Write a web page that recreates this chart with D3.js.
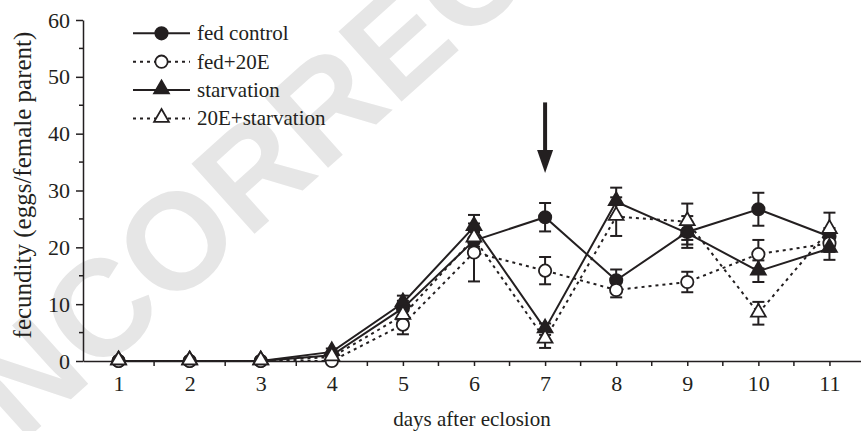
<meta charset="utf-8">
<style>
	body {
		margin: 0;
		background: #fff;
	}

	.axis path, .axis line {
		stroke: #231f20;
		stroke-width: 1.5;
	}
</style>

<body>
<script src="https://cdn.jsdelivr.net/npm/d3@7/dist/d3.min.js"></script>

<svg id="svg"></svg>

<script>

// DATA
var days = [ 1, 2, 3, 4, 5, 6, 7, 8, 9, 10, 11 ]

var fedControl       = [ 0, 0, 0, 1.0, 9.3, 21.2, 25.3, 14.2, 22.7, 26.7, 21.9 ]
var fedControlErr    = [ 0, 0, 0, 0.4, 1.3, 1.5, 2.5, 1.9, 2.8, 2.9, 1.5 ]
var fed20E           = [ 0, 0, 0, 0.0, 6.4, 19.1, 15.9, 12.5, 13.9, 18.8, 20.7 ]
var fed20EErr        = [ 0, 0, 0, 0.2, 1.7, 5.1, 2.4, 1.3, 1.8, 2.5, 1.5 ]
var starvation       = [ 0, 0, 0, 1.6, 10.2, 23.6, 5.6, 28.0, 22.5, 15.8, 19.8 ]
var starvationErr    = [ 0, 0, 0, 0.6, 1.3, 2.1, 1.0, 2.5, 2.0, 1.9, 2.0 ]
var starv20E         = [ 0, 0, 0, 0.7, 8.0, 21.6, 3.8, 25.4, 24.5, 8.4, 23.1 ]
var starv20EErr      = [ 0, 0, 0, 0.3, 1.0, 1.5, 1.5, 3.4, 3.2, 2.0, 3.0 ]

var seriesNames = [ 'fed control', 'fed+20E', 'starvation', '20E+starvation' ]

var yTicks = [ 0, 10, 20, 30, 40, 50, 60 ]

// arrow marking day 7 (from / to in fecundity units)
var arrowDay = 7
var arrowFrom = 45.5
var arrowTo = 33.1

// CANVAS
var width = 861
var height = 431
var ink = '#231f20'
var serif = '"Liberation Serif", "Times New Roman", serif'

var svg = d3.select( '#svg' )
	.attr( 'width', width )
	.attr( 'height', height )

// watermark
svg.append( 'text' )
	.attr( 'transform', 'translate(-52,510) rotate(-42)' )
	.style( 'font-family', '"Liberation Sans", Arial, sans-serif' )
	.style( 'font-weight', 'bold' )
	.style( 'font-size', '137px' )
	.style( 'fill', '#e6e6e6' )
	.text( 'UNCORRECTED PROOF' )

// SCALES
var x = d3.scaleLinear().domain([ 0.5, 11.5 ]).range([ 83, 865 ])
var y = d3.scaleLinear().domain([ 0, 60 ]).range([ 361, 20 ])

// Y axis
var yAxis = svg.append( 'g' )
	.attr( 'class', 'axis' )
	.attr( 'transform', 'translate(' + x( 0.5 ) + ',0)' )
	.call( d3.axisLeft( y ).tickValues( yTicks ).tickSize( 7 ).tickSizeOuter( 0 ).tickPadding( 6 ))
yAxis.attr( 'font-family', null )
yAxis.selectAll( 'text' )
	.style( 'font-family', serif )
	.style( 'font-size', '22px' )
	.style( 'fill', ink )
yAxis.append( 'g' ).selectAll( 'line' )
	.data( yTicks.slice( 0, -1 ).map( d => d + 5 ))
	.enter()
	.append( 'line' )
		.attr( 'x1', -4 ).attr( 'x2', 0 )
		.attr( 'y1', d => y( d )).attr( 'y2', d => y( d ))

// X axis
var halfDays = days.map( d => d + 0.5 )
var xAxis = svg.append( 'g' )
	.attr( 'class', 'axis' )
	.attr( 'transform', 'translate(0,' + y( 0 ) + ')' )
	.call( d3.axisBottom( x ).tickValues( days ).tickSize( 5 ).tickSizeOuter( 0 ).tickPadding( 9 ))
xAxis.attr( 'font-family', null )
xAxis.selectAll( 'text' )
	.style( 'font-family', serif )
	.style( 'font-size', '22px' )
	.style( 'fill', ink )
xAxis.append( 'g' ).selectAll( 'line' )
	.data( halfDays )
	.enter()
	.append( 'line' )
		.attr( 'x1', d => x( d )).attr( 'x2', d => x( d ))
		.attr( 'y1', 0 ).attr( 'y2', 5 )

// titles
svg.append( 'text' )
	.attr( 'transform', 'translate(31,185) rotate(-90)' )
	.attr( 'text-anchor', 'middle' )
	.style( 'font-family', serif )
	.style( 'font-size', '25px' )
	.style( 'fill', ink )
	.text( 'fecundity (eggs/female parent)' )

svg.append( 'text' )
	.attr( 'x', 472 )
	.attr( 'y', 426 )
	.attr( 'text-anchor', 'middle' )
	.style( 'font-family', serif )
	.style( 'font-size', '21px' )
	.style( 'fill', ink )
	.text( 'days after eclosion' )

// SERIES
var series = [
	{ name: seriesNames[ 0 ], values: fedControl, err: fedControlErr, dash: null, shape: 'circle', fill: ink },
	{ name: seriesNames[ 1 ], values: fed20E, err: fed20EErr, dash: '3,4', shape: 'circle', fill: '#fff' },
	{ name: seriesNames[ 2 ], values: starvation, err: starvationErr, dash: null, shape: 'triangle', fill: ink },
	{ name: seriesNames[ 3 ], values: starv20E, err: starv20EErr, dash: '3,4', shape: 'triangle', fill: '#fff' }
]

var line = d3.line()
	.x( d => x( d.day ))
	.y( d => y( d.v ))

function points( s ){
	return days.map( ( d, i ) => ({ day: d, v: s.values[ i ], e: s.err[ i ] }))
}

var symCircle = d3.symbol().type( d3.symbolCircle ).size( 120 )
var symTriangle = d3.symbol().type( d3.symbolTriangle ).size( 95 )

function symbolPath( s ){
	return s.shape == 'circle' ? symCircle() : symTriangle()
}

// lines
series.forEach( s => {
	svg.append( 'path' )
		.datum( points( s ))
		.attr( 'd', line )
		.attr( 'fill', 'none' )
		.attr( 'stroke', ink )
		.attr( 'stroke-width', 2 )
		.attr( 'stroke-dasharray', s.dash )
})

// error bars
series.forEach( s => {
	var g = svg.append( 'g' )
		.attr( 'stroke', ink )
		.attr( 'stroke-width', 2 )
	var bars = g.selectAll( 'g' )
		.data( points( s ).filter( p => p.e > 0.3 ))
		.enter()
		.append( 'g' )
	bars.append( 'line' )
		.attr( 'x1', p => x( p.day )).attr( 'x2', p => x( p.day ))
		.attr( 'y1', p => y( p.v - p.e )).attr( 'y2', p => y( p.v + p.e ))
	bars.append( 'line' )
		.attr( 'x1', p => x( p.day ) - 6 ).attr( 'x2', p => x( p.day ) + 6 )
		.attr( 'y1', p => y( p.v + p.e )).attr( 'y2', p => y( p.v + p.e ))
	bars.append( 'line' )
		.attr( 'x1', p => x( p.day ) - 6 ).attr( 'x2', p => x( p.day ) + 6 )
		.attr( 'y1', p => y( p.v - p.e )).attr( 'y2', p => y( p.v - p.e ))
})

// markers
series.forEach( s => {
	svg.append( 'g' ).selectAll( 'path' )
		.data( points( s ))
		.enter()
		.append( 'path' )
			.attr( 'd', symbolPath( s ))
			.attr( 'transform', p => 'translate(' + x( p.day ) + ',' + ( y( p.v ) - ( s.shape == 'triangle' ? 1 : 0 )) + ')' )
			.attr( 'fill', s.fill )
			.attr( 'stroke', ink )
			.attr( 'stroke-width', 1.8 )
})

// ARROW
var ax = x( arrowDay )
svg.append( 'line' )
	.attr( 'x1', ax ).attr( 'x2', ax )
	.attr( 'y1', y( arrowFrom )).attr( 'y2', y( arrowTo ) - 15 )
	.attr( 'stroke', ink )
	.attr( 'stroke-width', 4 )
svg.append( 'path' )
	.attr( 'd', 'M' + ( ax - 8 ) + ',' + ( y( arrowTo ) - 23 ) + 'L' + ( ax + 8 ) + ',' + ( y( arrowTo ) - 23 ) + 'L' + ax + ',' + y( arrowTo ) + 'Z' )
	.attr( 'fill', ink )

// LEGEND
var legend = svg.append( 'g' )
	.selectAll( 'g' )
	.data( series )
	.enter()
	.append( 'g' )
		.attr( 'transform', ( d, i ) => 'translate(0,' + ( 33.3 + i * 28.4 ) + ')' )

legend.append( 'line' )
	.attr( 'x1', 133 ).attr( 'x2', 190 )
	.attr( 'stroke', ink )
	.attr( 'stroke-width', 2 )
	.attr( 'stroke-dasharray', d => d.dash )

legend.append( 'path' )
	.attr( 'd', d => symbolPath( d ))
	.attr( 'transform', d => 'translate(161.5,' + ( d.shape == 'triangle' ? -1 : 0 ) + ')' )
	.attr( 'fill', d => d.fill )
	.attr( 'stroke', ink )
	.attr( 'stroke-width', 1.8 )

legend.append( 'text' )
	.attr( 'x', 197 )
	.attr( 'dy', '0.33em' )
	.style( 'font-family', serif )
	.style( 'font-size', '21px' )
	.style( 'fill', ink )
	.text( d => d.name )

</script>
</body>
